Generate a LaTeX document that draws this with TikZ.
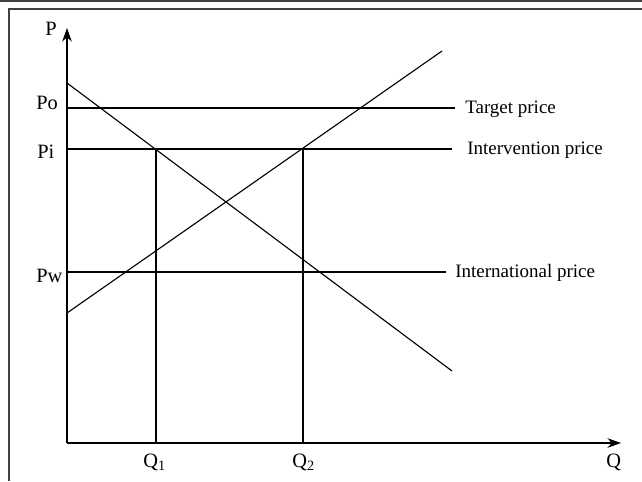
\documentclass[tikz,border=0pt]{standalone}
\usepackage{fontspec}
\setmainfont{Liberation Serif}
\usetikzlibrary{arrows.meta, calc, positioning}
\tikzset{
  frame/.style={line width=0.8pt, draw=black!75},
  axis/.style={line width=0.8pt, -{Stealth[length=3.4mm,width=2.4mm]}},
  curve/.style={line width=0.8pt},
  pricelvl/.style={line width=0.8pt},
  drop/.style={line width=0.8pt},
  lbl/.style={font=\fontsize{13.5}{15}\selectfont, inner sep=0pt},
  axlbl/.style={font=\fontsize{14.5}{16}\selectfont, inner sep=0pt}
}
\begin{document}
\begin{tikzpicture}[x=0.025cm, y=-0.025cm]
  \useasboundingbox (0,0) rectangle (642,481);
  % frame
  \draw [frame] (0,1) -- (642,1);
  \draw [frame] (642,9) -- (9,9) -- (9,481);

  % axes
  \coordinate (o) at (67,443);
  \coordinate (ytop) at (67,28);
  \coordinate (xend) at (621,443);
  \draw [axis] (o) -- (ytop);
  \draw [axis] (o) -- (xend);
  \node (plbl) [axlbl, anchor=base west] at (45,35) {P};
  \node (qlbl) [axlbl, anchor=base west] at (606,467) {Q};

  % price levels
  \coordinate (po) at (67,108);  \coordinate (poend) at (455,108);
  \coordinate (pi) at (67,149);  \coordinate (piend) at (452,149);
  \coordinate (pw) at (67,272);  \coordinate (pwend) at (446,272);
  \draw [pricelvl] (po) -- (poend);
  \draw [pricelvl] (pi) -- (piend);
  \draw [pricelvl] (pw) -- (pwend);
  \node (polbl) [axlbl, anchor=base west] at (36,109) {Po};
  \node (pilbl) [axlbl, anchor=base west] at (37,158) {Pi};
  \node (pwlbl) [axlbl, anchor=base west] at (36,282) {Pw};
  \node (target) [lbl, anchor=base west] at (465,113) {Target price};
  \node (interv) [lbl, anchor=base west] at (467,154) {Intervention price};
  \node (intl) [lbl, anchor=base west] at (455,277) {International price};

  % demand and supply
  \coordinate (dstart) at (67,83);  \coordinate (dend) at (452,371);
  \coordinate (sstart) at (67,313); \coordinate (send) at (442,51);
  \draw [curve] (dstart) -- (dend);
  \draw [curve] (sstart) -- (send);

  % quantities at the intervention price
  \coordinate (q1top) at (156,149); \coordinate (q1) at (156,443);
  \coordinate (q2top) at (303,149); \coordinate (q2) at (303,443);
  \draw [drop] (q1top) -- (q1);
  \draw [drop] (q2top) -- (q2);
  \node (q1lbl) [axlbl, anchor=base west] at (143,467) {Q\textsubscript{1}};
  \node (q2lbl) [axlbl, anchor=base west] at (292,467) {Q\textsubscript{2}};
\end{tikzpicture}
\end{document}
